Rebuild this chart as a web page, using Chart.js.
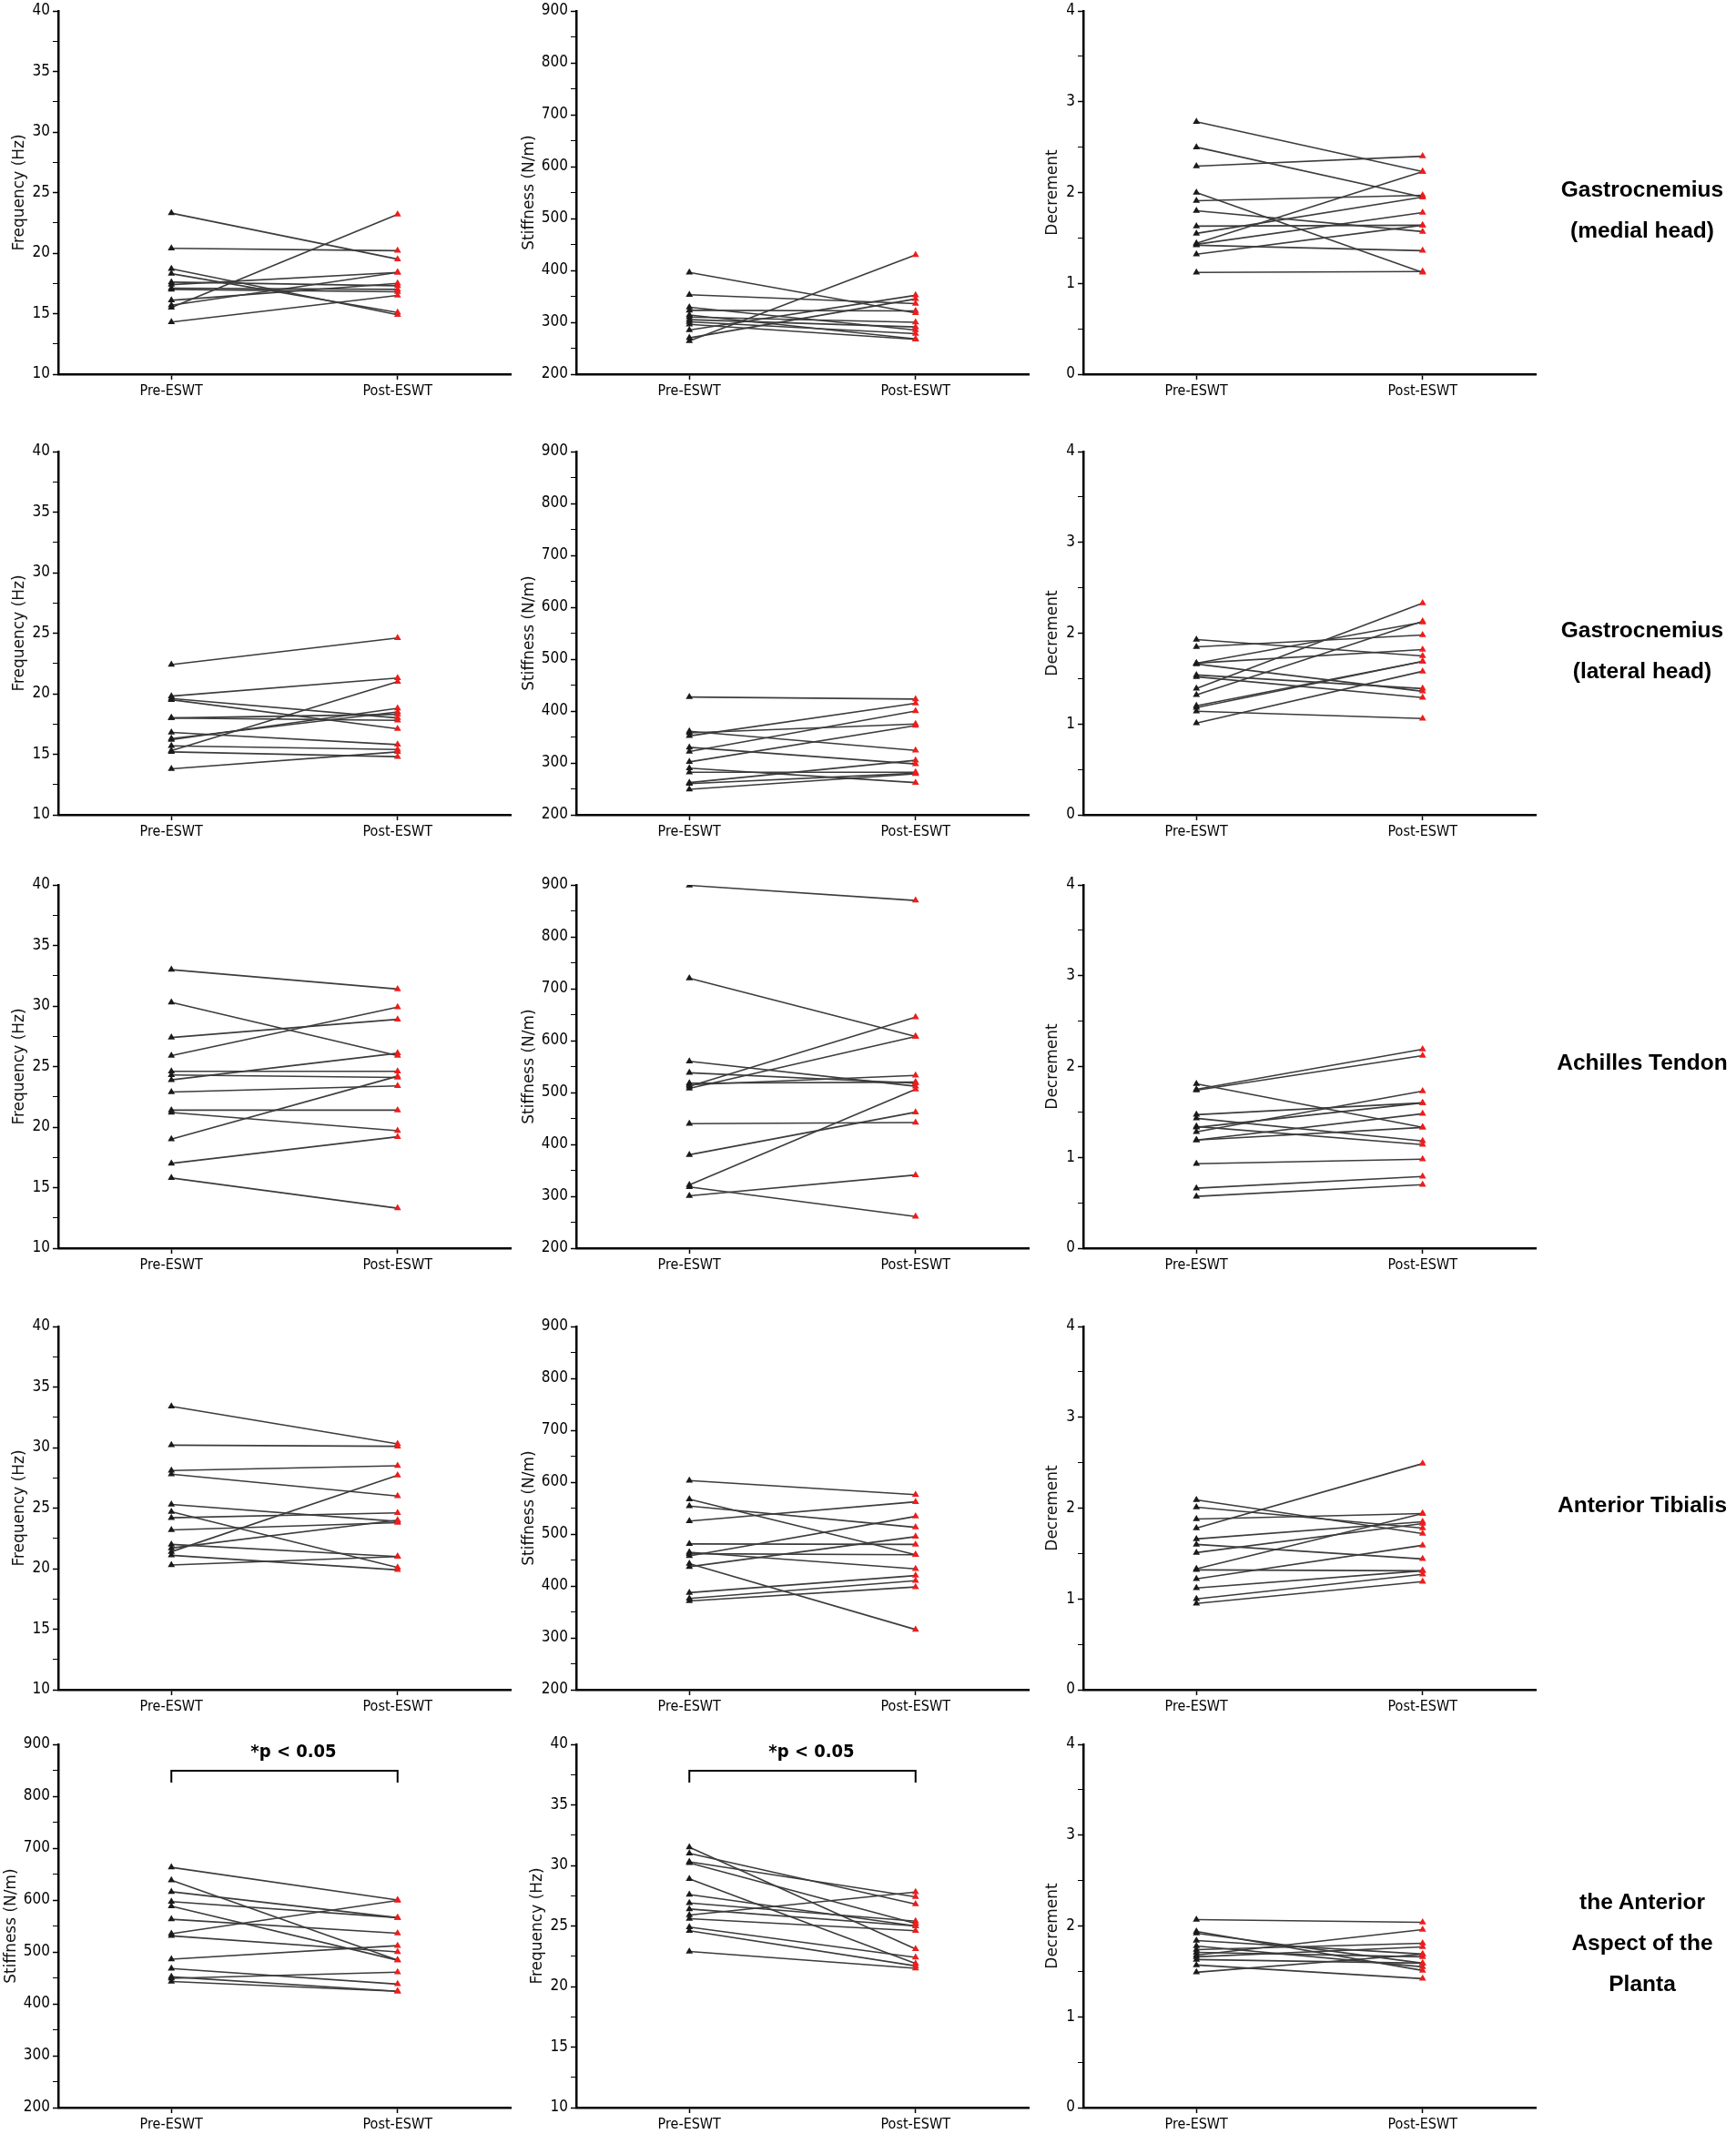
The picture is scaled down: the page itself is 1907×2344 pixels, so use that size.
<!DOCTYPE html>
<html lang="en">
<head>
<meta charset="UTF-8">
<title>Myoton parameters before and after ESWT</title>
<script src="https://cdn.jsdelivr.net/npm/chart.js"></script>
<style>
  body { margin: 0; background: #fff; }
  #page { position: relative; width: 1907px; height: 2344px; overflow: hidden; }
  #page canvas { position: absolute; }
  .muscle {
    position: absolute; width: 260px; text-align: center; color: #000;
    font: bold 24.5px 'Liberation Sans', Arial, sans-serif; line-height: 45px;
    transform: translate(-50%, -50%);
  }
</style>
</head>
<body>
<div id="page"></div>
<script>
// x categories and y tick sets
const groups = ['Pre-ESWT', 'Post-ESWT'];
const freqTicks = [10, 15, 20, 25, 30, 35, 40];
const stiffTicks = [200, 300, 400, 500, 600, 700, 800, 900];
const decrTicks = [0, 1, 2, 3, 4];
const sigText = '*p < 0.05';

// Gastrocnemius (medial head)
const medFreqPre   = [23.3, 20.4, 18.7, 18.3, 17.6, 17.4, 17.1, 17.0, 16.1, 15.7, 15.5, 14.3];
const medFreqPost  = [19.5, 20.2, 14.9, 15.1, 17.3, 18.4, 17.0, 16.8, 17.5, 18.4, 23.2, 16.5];
const medStiffPre  = [396, 353, 329, 323, 314, 305, 301, 296, 285, 270, 264, 310];
const medStiffPost = [318, 336, 285, 322, 268, 291, 278, 267, 352, 345, 430, 300];
const medDecrPre   = [2.78, 2.50, 2.29, 2.00, 1.91, 1.80, 1.63, 1.55, 1.44, 1.43, 1.42, 1.32, 1.12];
const medDecrPost  = [2.23, 1.95, 2.40, 1.12, 1.97, 1.57, 1.64, 1.95, 2.23, 1.78, 1.36, 1.64, 1.13];

// Gastrocnemius (lateral head)
const latFreqPre   = [22.4, 19.8, 19.6, 19.5, 18.0, 18.0, 16.8, 16.3, 16.2, 15.7, 15.3, 15.2, 13.8];
const latFreqPost  = [24.6, 21.3, 18.0, 17.1, 18.3, 17.8, 15.8, 18.5, 18.8, 15.4, 21.0, 14.8, 15.2];
const latStiffPre  = [427, 352, 358, 361, 330, 322, 302, 290, 282, 262, 260, 249];
const latStiffPost = [423, 415, 375, 324, 298, 400, 372, 262, 282, 305, 280, 279];
const latDecrPre   = [1.93, 1.85, 1.67, 1.67, 1.66, 1.54, 1.52, 1.39, 1.32, 1.20, 1.18, 1.14, 1.01];
const latDecrPost  = [1.75, 1.98, 2.12, 1.82, 1.36, 1.39, 1.29, 2.33, 2.13, 1.69, 1.69, 1.06, 1.58];

// Achilles tendon
const achFreqPre   = [33.0, 30.3, 27.4, 25.9, 23.9, 24.6, 24.3, 22.9, 21.4, 21.2, 19.0, 17.0, 15.8];
const achFreqPost  = [31.4, 25.9, 28.9, 29.9, 26.1, 24.6, 24.1, 23.4, 21.4, 19.7, 24.2, 19.2, 13.3];
const achStiffPre  = [899, 720, 560, 538, 512, 508, 515, 518, 440, 380, 322, 318, 301];
const achStiffPost = [870, 608, 512, 518, 645, 608, 533, 520, 442, 462, 506, 261, 341];
const achDecrPre   = [1.75, 1.74, 1.81, 1.47, 1.43, 1.34, 1.28, 1.33, 1.19, 1.19, 0.93, 0.66, 0.57];
const achDecrPost  = [2.19, 2.12, 1.33, 1.60, 1.18, 1.14, 1.73, 1.60, 1.48, 1.33, 0.98, 0.79, 0.70];

// Anterior tibialis
const tibFreqPre   = [33.4, 30.2, 28.1, 27.8, 25.3, 24.7, 24.2, 23.2, 21.4, 21.7, 22.0, 21.1, 20.3];
const tibFreqPost  = [30.3, 30.1, 28.5, 26.0, 23.9, 20.1, 24.6, 23.8, 27.7, 24.0, 21.0, 19.9, 21.0];
const tibStiffPre  = [603, 567, 554, 525, 481, 458, 462, 465, 443, 437, 387, 376, 371];
const tibStiffPost = [576, 460, 513, 562, 480, 534, 460, 433, 316, 495, 420, 410, 398];
const tibDecrPre   = [2.09, 2.01, 1.88, 1.78, 1.66, 1.60, 1.51, 1.33, 1.32, 1.22, 1.12, 1.00, 0.95];
const tibDecrPost  = [1.72, 1.78, 1.94, 2.49, 1.85, 1.44, 1.83, 1.94, 1.31, 1.59, 1.31, 1.27, 1.19];

// Anterior aspect of the planta (stiffness first, then frequency)
const plaStiffPre  = [663, 638, 616, 597, 588, 563, 535, 531, 486, 468, 452, 449, 443];
const plaStiffPost = [600, 484, 566, 566, 484, 536, 599, 500, 512, 438, 424, 461, 424];
const plaFreqPre   = [31.5, 31.0, 30.3, 30.2, 28.9, 27.6, 26.9, 26.4, 25.9, 25.6, 24.9, 24.6, 22.9];
const plaFreqPost  = [23.1, 26.8, 27.4, 25.2, 21.9, 25.0, 25.4, 25.0, 27.8, 24.6, 22.4, 21.7, 21.5];
const plaDecrPre   = [2.07, 1.94, 1.92, 1.84, 1.78, 1.74, 1.71, 1.68, 1.63, 1.57, 1.49, 1.66];
const plaDecrPost  = [2.04, 1.51, 1.59, 1.69, 1.55, 1.81, 1.66, 1.96, 1.59, 1.42, 1.69, 1.77];

const FREQ = 'Frequency (Hz)', STIFF = 'Stiffness (N/m)', DECR = 'Decrement';

const rows = [
  { label: ['Gastrocnemius', '(medial head)'], labelY: 230, panels: [
    [FREQ, freqTicks, medFreqPre, medFreqPost], [STIFF, stiffTicks, medStiffPre, medStiffPost], [DECR, decrTicks, medDecrPre, medDecrPost]] },
  { label: ['Gastrocnemius', '(lateral head)'], labelY: 714, panels: [
    [FREQ, freqTicks, latFreqPre, latFreqPost], [STIFF, stiffTicks, latStiffPre, latStiffPost], [DECR, decrTicks, latDecrPre, latDecrPost]] },
  { label: ['Achilles Tendon'], labelY: 1166, panels: [
    [FREQ, freqTicks, achFreqPre, achFreqPost], [STIFF, stiffTicks, achStiffPre, achStiffPost], [DECR, decrTicks, achDecrPre, achDecrPost]] },
  { label: ['Anterior Tibialis'], labelY: 1652, panels: [
    [FREQ, freqTicks, tibFreqPre, tibFreqPost], [STIFF, stiffTicks, tibStiffPre, tibStiffPost], [DECR, decrTicks, tibDecrPre, tibDecrPost]] },
  { label: ['the Anterior', 'Aspect of the', 'Planta'], labelY: 2133, panels: [
    [STIFF, stiffTicks, plaStiffPre, plaStiffPost, sigText], [FREQ, freqTicks, plaFreqPre, plaFreqPost, sigText], [DECR, decrTicks, plaDecrPre, plaDecrPost]] }
];

// page geometry
const rowTops = [12, 496, 972, 1457, 1916];
const colAxisX = [64, 633, 1190];
const PLOT_W = 497, PLOT_H = 399;
const PRE_X = 1, POST_X = 3;
const PRE_COLOR = '#1a1a1a', POST_COLOR = '#ee1c1c', LINE_COLOR = '#3c3c3c';
const NARROW = "'Liberation Sans Narrow', 'Arial Narrow', 'DejaVu Sans Condensed', 'Liberation Sans', sans-serif";

// bracket + label for the significant comparisons
const sigBracket = {
  id: 'sigBracket',
  afterDatasetsDraw(chart, args, opts) {
    if (!opts.text) return;
    const { ctx, chartArea, scales } = chart;
    const x1 = scales.x.getPixelForValue(PRE_X), x2 = scales.x.getPixelForValue(POST_X);
    const yBar = chartArea.top + 29, yLeg = chartArea.top + 42;
    ctx.save();
    ctx.strokeStyle = '#000';
    ctx.lineWidth = 2;
    ctx.beginPath();
    ctx.moveTo(x1, yLeg); ctx.lineTo(x1, yBar); ctx.lineTo(x2, yBar); ctx.lineTo(x2, yLeg);
    ctx.stroke();
    ctx.fillStyle = '#000';
    ctx.font = 'bold 20px ' + NARROW;
    ctx.textAlign = 'center';
    ctx.textBaseline = 'middle';
    ctx.fillText(opts.text, (x1 + x2) / 2 + 10, chartArea.top + 9);
    ctx.restore();
  }
};

const page = document.getElementById('page');

function addPanel(axisX, plotTop, title, majors, pre, post, sig) {
  const labelLen = String(majors[majors.length - 1]).length;
  const gap = 25 + 9 * labelLen;      // distance from axis to title centre
  const W = gap + 10;                 // y scale box width
  const padTop = 22, xH = 44, padR = 8;
  const canvas = document.createElement('canvas');
  canvas.width = W + PLOT_W + padR;
  canvas.height = padTop + PLOT_H + xH;
  canvas.style.left = (axisX - W) + 'px';
  canvas.style.top = (plotTop - padTop) + 'px';
  page.appendChild(canvas);

  const step = majors[1] - majors[0];
  const yTicks = [];
  for (let i = 0; i < majors.length; i++) {
    yTicks.push({ value: majors[i] });
    if (i < majors.length - 1) yTicks.push({ value: majors[i] + step / 2 });
  }

  const datasets = pre.map((v, i) => ({
    data: [{ x: PRE_X, y: v }, { x: POST_X, y: post[i] }],
    borderColor: LINE_COLOR,
    borderWidth: 1.6,
    pointStyle: 'triangle',
    pointRadius: 4.5,
    pointBackgroundColor: [PRE_COLOR, POST_COLOR],
    pointBorderColor: [PRE_COLOR, POST_COLOR],
    pointBorderWidth: 0
  }));

  new Chart(canvas, {
    type: 'line',
    data: { datasets },
    options: {
      responsive: false,
      animation: false,
      devicePixelRatio: 1,
      layout: { padding: { top: padTop, right: padR, left: 0, bottom: 0 } },
      plugins: { legend: { display: false }, tooltip: { enabled: false }, sigBracket: { text: sig } },
      scales: {
        x: {
          type: 'linear', min: 0, max: 4,
          afterBuildTicks: s => { s.ticks = [{ value: PRE_X }, { value: POST_X }]; },
          afterFit: s => { s.height = xH; },
          border: { color: '#000', width: 2.5 },
          grid: { drawOnChartArea: false, drawTicks: true, tickLength: 6, tickColor: '#000', tickWidth: 1.5 },
          ticks: {
            autoSkip: false, maxRotation: 0, padding: 3, color: '#000',
            font: { family: NARROW, size: 16 },
            callback: v => v === PRE_X ? groups[0] : (v === POST_X ? groups[1] : '')
          }
        },
        y: {
          min: majors[0], max: majors[majors.length - 1],
          afterBuildTicks: s => { s.ticks = yTicks.map(t => ({ value: t.value })); },
          afterFit: s => { s.width = W; },
          border: { color: '#000', width: 2.5 },
          grid: {
            drawOnChartArea: false, drawTicks: true, tickLength: 6, tickColor: '#000',
            tickWidth: c => (majors.includes(c.tick.value) ? 1.5 : 1)
          },
          ticks: {
            autoSkip: false, padding: 3, color: '#000',
            font: { family: NARROW, size: 17 },
            callback: v => (majors.includes(v) ? String(v) : '')
          },
          title: {
            display: true, text: title, color: '#111',
            font: { family: "'DejaVu Sans', Verdana, sans-serif", size: 17 },
            padding: { top: 0, bottom: 0 }
          }
        }
      }
    },
    plugins: [sigBracket]
  });
}

rows.forEach((row, r) => {
  row.panels.forEach((p, c) => addPanel(colAxisX[c], rowTops[r], p[0], p[1], p[2], p[3], p[4]));
  const div = document.createElement('div');
  div.className = 'muscle';
  div.style.left = '1804px';
  div.style.top = row.labelY + 'px';
  div.innerHTML = row.label.join('<br>');
  page.appendChild(div);
});
</script>
</body>
</html>
